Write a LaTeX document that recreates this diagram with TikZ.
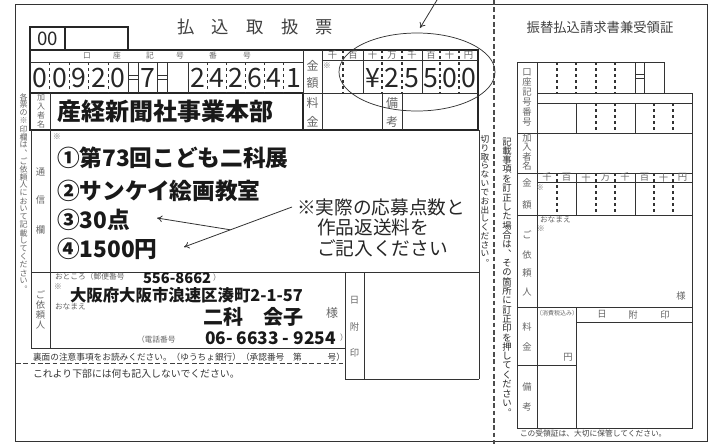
\documentclass[tikz,border=0pt]{standalone}
\usepackage{fontspec}
\setmainfont{Noto Sans CJK JP}
\usetikzlibrary{arrows.meta}

\newdimen\tatestepdim
\newcommand\tatekaki[2]{\vbox{\tatestepdim=#1\relax\offinterlineskip\tatestep#2\relax}}
\def\tatestep#1{\ifx#1\relax\else\hbox to 1em{\hss\vbox to\tatestepdim{\vss\hbox{#1}\vss}\hss}\expandafter\tatestep\fi}

\begin{document}
\begin{tikzpicture}[x=0.75pt,y=-0.75pt,
  every node/.style={inner sep=0pt, outer sep=0pt},
  formline/.style={line width=0.55pt, draw=black!80},
  boldline/.style={line width=1.8pt, draw=black!85},
  cellline/.style={line width=0.8pt, draw=black!80, dash pattern=on 2.5pt off 2pt},
  cutline/.style={line width=1.3pt, draw=black!70, dash pattern=on 3.5pt off 2pt},
  sepline/.style={line width=0.6pt, draw=black!75, dash pattern=on 3.5pt off 2pt},
  tinylab/.style={text=black!60, font=\fontsize{5.8}{6}\selectfont},
  lab/.style={text=black!60, font=\fontsize{7}{8}\selectfont},
  biglab/.style={text=black!60, font=\fontsize{9}{10}\selectfont},
  digit/.style={text=black!85, font=\fontsize{20}{20}\selectfont},
  entry/.style={text=black!90, font=\fontsize{17}{17}\selectfont\bfseries, anchor=west},
  pointer/.style={-{To[length=4pt,width=5pt]}, line width=0.6pt, draw=black!80}]
\useasboundingbox (0,0) rectangle (710,444);
\draw[formline] (15.5,4) rectangle (707,441);
\node[text=black!75, font=\fontsize{13}{13}\selectfont] (title) at (255,27) {払\hspace{1em}込\hspace{1em}取\hspace{1em}扱\hspace{1em}票};

\draw[boldline] (30,27) rectangle (128,50);
\draw[boldline] (65,27) -- (65,50);
\node[digit, font=\fontsize{14}{14}\selectfont] (codebox) at (47.5,39) {00};

\draw[boldline] (30,50) rectangle (478,130);
\draw[boldline] (30,93) -- (303,93) -- (303,130);
\draw[formline] (303,50) -- (303,93);
\draw[formline] (30,62) -- (303,62);
\draw[formline] (322,50) -- (322,130);
\draw[formline] (322,60) -- (478,60);
\draw[formline] (303,93) -- (478,93);
\foreach \x in {49.6,69.2,88.8,108.4,207.2,226.3,245.5,264.7,283.8} \draw[cellline] (\x,62) -- (\x,93);
\foreach \x in {128,138,157,167,188} \draw[formline] (\x,62) -- (\x,93);
\foreach \x in {128,157} {
  \draw[formline] (\x,75.5) -- (\x+10,75.5);
  \draw[formline] (\x,79.5) -- (\x+10,79.5);
}
\foreach \c/\x [count=\i] in {口/87,座/117,記/150,号/180,番/213,号/247} \node[tinylab] (alab\i) at (\x,56) {\c};
\foreach \d [count=\i] in {0,0,9,2,0} \node[digit] (accta\i) at ({20.2+19.6*\i},78) {\d};
\node[digit] (acctmid) at (147.5,78) {7};
\foreach \d [count=\i] in {2,4,2,6,4,1} \node[digit] (acctb\i) at ({178.4+19.17*\i},78) {\d};

\foreach \x in {343,382,402,440,459} \draw[cellline] (\x,50) -- (\x,93);
\foreach \x in {363,422} \draw[formline] (\x,50) -- (\x,93);
\draw[formline] (382,93) -- (382,130) (402,93) -- (402,130);
\foreach \c/\x [count=\i] in {千/332.5,百/353,十/372.5,万/392,千/412,百/431,十/449.5,円/468.5} \node[lab] (unit\i) at (\x,55) {\c};
\foreach \d/\x [count=\i] in {¥/372.5,2/392,5/412,5/431,0/449.5,0/468.5} \node[digit] (amt\i) at (\x,78) {\d};
\node[tinylab] (amtmark) at (327,66) {※};
\node[biglab] (kin) at (312.5,66) {金};
\node[biglab] (gaku) at (312.5,83) {額};
\node[biglab] (ryo) at (312.5,103) {料};
\node[biglab] (kin2) at (312.5,122) {金};
\node[biglab] (bi) at (392,103) {備};
\node[biglab] (ko) at (392,122) {考};

\node[lab, font=\fontsize{6}{6}\selectfont] (payeelab) at (41,111) {\tatekaki{6.75pt}{加入者名}};
\node[entry, font=\fontsize{18}{18}\selectfont\bfseries] (payee) at (57,111) {産経新聞社事業本部};
\node[lab, font=\fontsize{6}{6}\selectfont] (sidenote) at (23.5,193) {\tatekaki{6pt}{各票の※印欄は︑ご依頼人において記載してください︒}};

\draw[formline] (31,130) -- (31,348);
\draw[formline] (50,93) -- (50,348);
\draw[formline] (479,130) -- (479,379);
\draw[formline] (31,272) -- (479,272);
\draw[formline] (31,348) -- (345,348);
\draw[formline] (345,272) -- (345,379) -- (479,379);
\draw[formline] (364,272) -- (364,379);

\node[lab] (tsu) at (40.5,172) {通};
\node[lab] (shin) at (40.5,200) {信};
\node[lab] (ran) at (40.5,230) {欄};
\node[tinylab] (msgmark) at (57,137) {※};
\node[entry] (item1) at (57,158) {①第73回こども二科展};
\node[entry] (item2) at (57,191) {②サンケイ絵画教室};
\node[entry] (item3) at (57,220) {③30点};
\node[entry] (item4) at (57,249) {④1500円};

\node[anchor=west, text=black!85, font=\fontsize{14}{14}\selectfont] (note1) at (297,207) {※実際の応募点数と};
\node[anchor=west, text=black!85, font=\fontsize{14}{14}\selectfont] (note2) at (317,227) {作品返送料を};
\node[anchor=west, text=black!85, font=\fontsize{14}{14}\selectfont] (note3) at (317,248) {ご記入ください};
\coordinate (notetail) at (292,207);
\coordinate (tip3) at (157,218);
\coordinate (tip4) at (184,247);
\draw[pointer] (notetail) -- coordinate[pos=0.57] (fork) (tip4);
\draw[pointer] (fork) -- (tip3);

\node[lab] (sender) at (40.5,310) {\tatekaki{7.5pt}{ご依頼人}};
\node[tinylab, anchor=west] (addrlab) at (55,277) {おところ（郵便番号};
\node[anchor=west, text=black!90, font=\fontsize{11}{11}\selectfont\bfseries] (zip) at (143,278) {556-8662};
\node[tinylab] (zipend) at (217,278) {）};
\node[tinylab] (addrmark) at (58,287) {※};
\node[anchor=west, text=black!90, font=\fontsize{12.3}{13}\selectfont\bfseries] (addr) at (70,295) {大阪府大阪市浪速区湊町2-1-57};
\node[tinylab, anchor=west] (namelab) at (55,307) {おなまえ};
\node[anchor=east, text=black!90, font=\fontsize{15}{15}\selectfont\bfseries] (name) at (303,317) {二科　会子};
\node[biglab] (sama) at (332,313) {様};
\node[tinylab, anchor=west] (tellab) at (137,340) {（電話番号};
\node[anchor=west, text=black!90, font=\fontsize{13}{13}\selectfont\bfseries] (tel) at (205,338) {06- 6633 - 9254};
\node[tinylab] (telend) at (344,338) {）};

\node[lab] (hi) at (354.5,300) {日};
\node[lab] (tsuke) at (354.5,327) {附};
\node[lab] (in) at (354.5,353) {印};

\node[anchor=west, text=black!80, font=\fontsize{6.5}{7}\selectfont] (backnote) at (33,357) {裏面の注意事項をお読みください。（ゆうちょ銀行）（承認番号　第　　　号）};
\draw[sepline] (16,363) -- (345,363);
\node[anchor=west, text=black!80, font=\fontsize{7.4}{8}\selectfont] (nowrite) at (33,374) {これより下部には何も記入しないでください。};

\draw[cutline] (494,0) -- (494,444);
\node[text=black!85, font=\fontsize{6.5}{7}\selectfont] (nocut) at (485,201) {\tatekaki{6.6pt}{切り取らないでお出しください︒}};

\draw[formline] (417,72) ellipse [x radius=78, y radius=39];
\coordinate (ptop) at (437,0);
\coordinate (ptip) at (420,28);
\draw[pointer] (ptop) -- (ptip);

\node[text=black!75, font=\fontsize{10}{10}\selectfont] (rtitle) at (600,27) {振替払込請求書兼受領証};
\node[text=black!85, font=\fontsize{7}{7}\selectfont] (fixnote) at (507,277) {\tatekaki{7pt}{記載事項を訂正した場合は︑その箇所に訂正印を押してください︒}};

\draw[formline] (517,62) -- (664,62) -- (664,93);
\draw[formline] (517,62) -- (517,428) -- (692,428) -- (692,93) -- (537,93);
\draw[formline] (537,62) -- (537,428);
\draw[formline] (537,103) -- (692,103);
\draw[formline] (517,133) -- (692,133);
\draw[formline] (517,173) -- (692,173);
\draw[formline] (537,182) -- (692,182);
\draw[formline] (517,215) -- (692,215);
\draw[formline] (517,307) -- (692,307);
\draw[formline] (517,365) -- (576,365);
\draw[formline] (576,307) -- (576,428);
\draw[formline] (576,322) -- (692,322);
\foreach \x in {557,576,596,615} \draw[cellline] (\x,62) -- (\x,93);
\draw[formline] (635,62) -- (635,93) (644,62) -- (644,93);
\draw[formline] (635,74.5) -- (644,74.5) (635,78.5) -- (644,78.5);
\draw[formline] (576,103) -- (576,133) (635,103) -- (635,133);
\foreach \x in {596,615,654,673} \draw[cellline] (\x,103) -- (\x,133);
\foreach \x in {557,596,615,654,673} \draw[cellline] (\x,173) -- (\x,215);
\draw[formline] (576,173) -- (576,215) (635,173) -- (635,215);

\node[lab] (racct) at (527,97) {\tatekaki{7.4pt}{口座記号番号}};
\node[lab] (rpayee) at (527,152) {\tatekaki{7pt}{加入者名}};
\node[lab] (rkin) at (527,183) {金};
\node[lab] (rgaku) at (527,205) {額};
\foreach \c/\x [count=\i] in {千/547,百/566.5,十/586,万/605.5,千/625,百/644.5,十/663.5,円/682.5} \node[lab] (runit\i) at (\x,177.5) {\c};
\node[tinylab] (ramtmark) at (540,188) {※};
\node[tinylab, anchor=west] (rnamelab) at (540,220) {おなまえ};
\node[tinylab] (rnamemark) at (541,229) {※};
\node[lab] (rgo) at (527,235) {ご};
\node[lab] (ryori) at (527,255) {依};
\node[lab] (rrai) at (527,273) {頼};
\node[lab] (rnin) at (527,292) {人};
\node[lab] (rsama) at (681,296) {様};
\node[lab] (rryo) at (527,327) {料};
\node[lab] (rkin2) at (527,347) {金};
\node[tinylab, font=\fontsize{4.5}{5}\selectfont] (rtax) at (557,313) {（消費税込み）};
\node[lab] (ryen) at (568,357) {円};
\node[lab] (rhi) at (602,314.5) {日};
\node[lab] (rtsuke) at (633,314.5) {附};
\node[lab] (rin) at (665,314.5) {印};
\node[lab] (rbi) at (527,387) {備};
\node[lab] (rko) at (527,407) {考};
\node[tinylab, anchor=west, text=black!75] (keep) at (520,434) {この受領証は、大切に保管してください。};
\end{tikzpicture}
\end{document}
